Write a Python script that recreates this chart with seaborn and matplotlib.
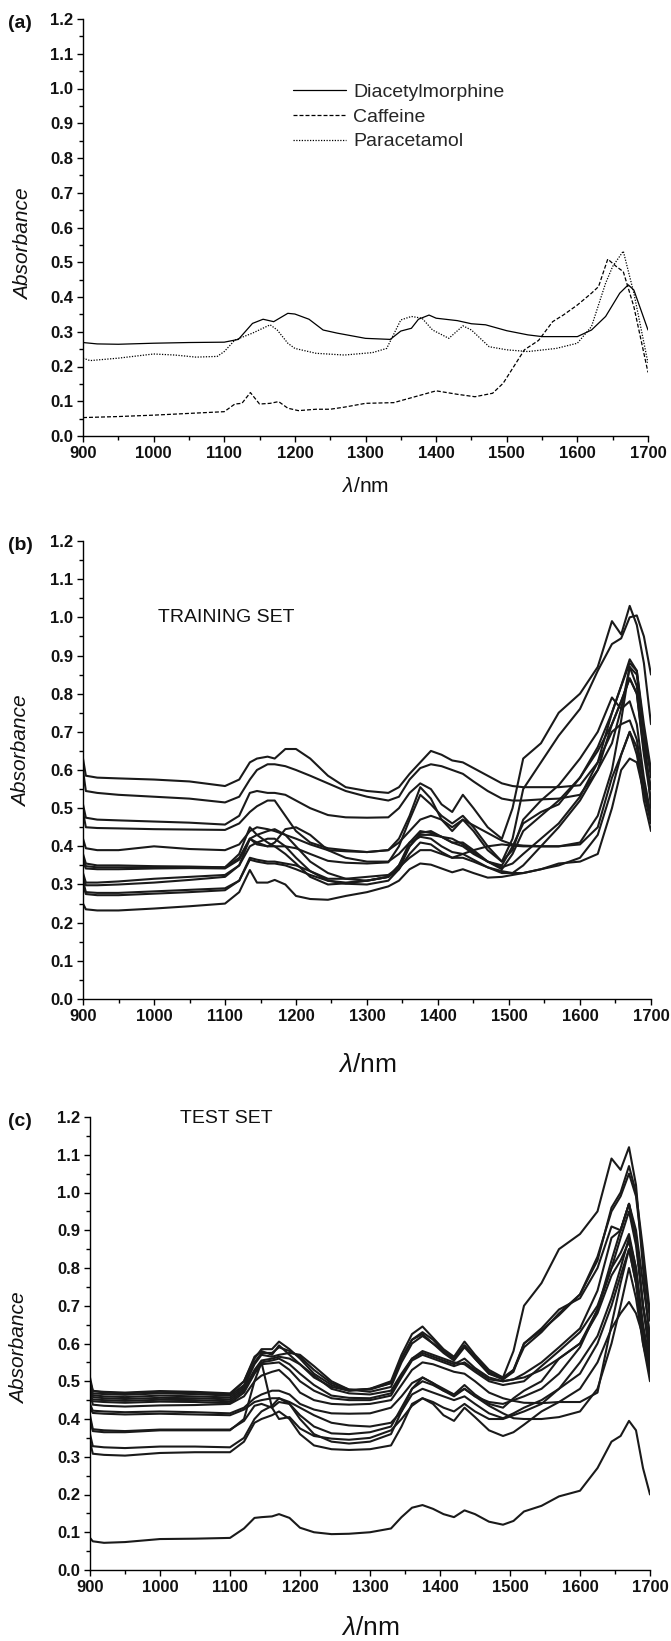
import numpy as np
import pandas as pd
import matplotlib
matplotlib.use("Agg")
import matplotlib.pyplot as plt
from matplotlib.ticker import MultipleLocator, FormatStrFormatter
from matplotlib.lines import Line2D
import seaborn as sns

# ---------------- Panel (a): pure compounds ----------------
dam_wl = [900, 920, 950, 1000, 1050, 1100, 1120, 1140, 1155, 1170, 1190, 1200, 1220, 1240, 1260, 1300,
          1335, 1350, 1365, 1375, 1390, 1400, 1430, 1450, 1470, 1500, 1530, 1550, 1580, 1600, 1620, 1640,
          1660, 1672, 1680, 1700]
dam_abs = [0.269, 0.265, 0.264, 0.267, 0.269, 0.270, 0.278, 0.324, 0.336, 0.329, 0.353, 0.351, 0.336, 0.305,
           0.296, 0.281, 0.278, 0.302, 0.310, 0.336, 0.348, 0.339, 0.332, 0.323, 0.320, 0.303, 0.291, 0.286,
           0.286, 0.286, 0.305, 0.344, 0.411, 0.435, 0.420, 0.305]
caf_wl = [900, 950, 1000, 1050, 1100, 1115, 1125, 1137, 1150, 1165, 1177, 1190, 1205, 1230, 1250, 1270, 1300,
          1340, 1370, 1400, 1430, 1455, 1480, 1495, 1510, 1525, 1545, 1565, 1580, 1600, 1620, 1630, 1643,
          1655, 1665, 1680, 1700]
caf_abs = [0.053, 0.056, 0.060, 0.065, 0.070, 0.092, 0.094, 0.125, 0.092, 0.094, 0.099, 0.080, 0.073, 0.077,
           0.077, 0.083, 0.094, 0.096, 0.113, 0.130, 0.120, 0.113, 0.123, 0.152, 0.200, 0.248, 0.275, 0.329,
           0.348, 0.377, 0.411, 0.430, 0.509, 0.488, 0.473, 0.372, 0.183]
par_wl = [900, 910, 950, 1000, 1030, 1060, 1090, 1100, 1115, 1140, 1165, 1175, 1190, 1200, 1230, 1270, 1310,
          1330, 1350, 1365, 1380, 1395, 1418, 1438, 1450, 1475, 1500, 1530, 1570, 1600, 1620, 1640, 1650,
          1665, 1680, 1700]
par_abs = [0.224, 0.217, 0.224, 0.236, 0.233, 0.227, 0.229, 0.243, 0.276, 0.296, 0.320, 0.305, 0.267, 0.252,
           0.238, 0.233, 0.240, 0.252, 0.334, 0.344, 0.339, 0.305, 0.281, 0.317, 0.305, 0.257, 0.248, 0.243,
           0.252, 0.267, 0.315, 0.440, 0.488, 0.532, 0.411, 0.210]
compounds = ["Diacetylmorphine", "Caffeine", "Paracetamol"]

# ---------------- Panels (b) and (c): spectra on a common wavelength grid ----------------
wl = [900, 904, 920, 950, 1000, 1050, 1100, 1120, 1135, 1145, 1160, 1170, 1185, 1200, 1220, 1245, 1270,
      1300, 1330, 1345, 1360, 1375, 1390, 1405, 1420, 1435, 1450, 1470, 1490, 1505, 1520, 1545, 1570,
      1600, 1625, 1645, 1658, 1670, 1680, 1690, 1700]

train_01 = [0.63, 0.585, 0.580, 0.578, 0.575, 0.570, 0.558, 0.575, 0.620, 0.630, 0.635, 0.630, 0.655, 0.655, 0.630, 0.585, 0.555, 0.545, 0.540, 0.555, 0.590, 0.620, 0.650, 0.640, 0.625, 0.620, 0.605, 0.585, 0.565, 0.558, 0.555, 0.555, 0.555, 0.560, 0.620, 0.750, 0.820, 0.880, 0.860, 0.700, 0.500]
train_02 = [0.60, 0.545, 0.540, 0.535, 0.530, 0.525, 0.515, 0.530, 0.575, 0.600, 0.615, 0.615, 0.610, 0.600, 0.585, 0.565, 0.545, 0.530, 0.520, 0.530, 0.575, 0.605, 0.615, 0.610, 0.600, 0.590, 0.570, 0.545, 0.525, 0.520, 0.520, 0.523, 0.525, 0.535, 0.600, 0.720, 0.780, 0.840, 0.800, 0.650, 0.550]
train_03 = [0.51, 0.475, 0.470, 0.468, 0.465, 0.462, 0.457, 0.480, 0.540, 0.545, 0.540, 0.540, 0.535, 0.520, 0.500, 0.482, 0.476, 0.475, 0.476, 0.500, 0.540, 0.565, 0.550, 0.510, 0.490, 0.535, 0.500, 0.450, 0.420, 0.500, 0.630, 0.670, 0.750, 0.800, 0.870, 0.990, 0.955, 1.030, 0.980, 0.880, 0.720]
train_04 = [0.49, 0.450, 0.448, 0.447, 0.445, 0.444, 0.443, 0.460, 0.490, 0.505, 0.520, 0.520, 0.480, 0.440, 0.410, 0.395, 0.390, 0.385, 0.390, 0.420, 0.480, 0.555, 0.525, 0.470, 0.440, 0.470, 0.440, 0.390, 0.360, 0.420, 0.550, 0.620, 0.690, 0.760, 0.860, 0.930, 0.945, 1.000, 1.005, 0.950, 0.850]
train_05 = [0.42, 0.395, 0.390, 0.390, 0.400, 0.393, 0.390, 0.405, 0.440, 0.450, 0.445, 0.440, 0.430, 0.420, 0.405, 0.390, 0.387, 0.385, 0.390, 0.410, 0.440, 0.470, 0.480, 0.470, 0.450, 0.470, 0.455, 0.435, 0.415, 0.405, 0.402, 0.400, 0.400, 0.405, 0.450, 0.580, 0.640, 0.700, 0.640, 0.540, 0.460]
train_06 = [0.38, 0.355, 0.350, 0.350, 0.348, 0.347, 0.345, 0.380, 0.450, 0.430, 0.410, 0.400, 0.400, 0.395, 0.380, 0.362, 0.357, 0.355, 0.358, 0.400, 0.470, 0.535, 0.510, 0.480, 0.460, 0.480, 0.450, 0.400, 0.360, 0.390, 0.470, 0.520, 0.560, 0.630, 0.700, 0.790, 0.760, 0.780, 0.720, 0.580, 0.480]
train_07 = [0.37, 0.348, 0.345, 0.345, 0.345, 0.345, 0.345, 0.370, 0.420, 0.430, 0.440, 0.445, 0.430, 0.400, 0.360, 0.330, 0.315, 0.310, 0.320, 0.350, 0.400, 0.435, 0.440, 0.425, 0.410, 0.400, 0.380, 0.360, 0.340, 0.380, 0.440, 0.480, 0.520, 0.580, 0.660, 0.750, 0.820, 0.890, 0.860, 0.720, 0.600]
train_08 = [0.36, 0.342, 0.340, 0.340, 0.342, 0.343, 0.342, 0.365, 0.420, 0.405, 0.400, 0.410, 0.445, 0.450, 0.430, 0.390, 0.370, 0.360, 0.360, 0.380, 0.410, 0.425, 0.420, 0.400, 0.385, 0.380, 0.390, 0.400, 0.405, 0.402, 0.400, 0.400, 0.400, 0.410, 0.480, 0.600, 0.730, 0.870, 0.820, 0.660, 0.550]
train_09 = [0.33, 0.305, 0.305, 0.308, 0.315, 0.320, 0.325, 0.350, 0.400, 0.410, 0.420, 0.420, 0.400, 0.370, 0.335, 0.310, 0.302, 0.300, 0.310, 0.340, 0.400, 0.430, 0.430, 0.425, 0.420, 0.405, 0.385, 0.360, 0.350, 0.400, 0.460, 0.490, 0.510, 0.580, 0.650, 0.720, 0.780, 0.840, 0.800, 0.640, 0.520]
train_10 = [0.32, 0.298, 0.298, 0.300, 0.305, 0.312, 0.320, 0.350, 0.420, 0.410, 0.400, 0.400, 0.380, 0.355, 0.320, 0.300, 0.303, 0.310, 0.320, 0.350, 0.410, 0.440, 0.435, 0.425, 0.410, 0.410, 0.390, 0.360, 0.345, 0.355, 0.380, 0.420, 0.460, 0.530, 0.620, 0.700, 0.720, 0.730, 0.680, 0.560, 0.470]
train_11 = [0.31, 0.280, 0.278, 0.278, 0.282, 0.286, 0.290, 0.310, 0.370, 0.365, 0.360, 0.360, 0.355, 0.350, 0.335, 0.315, 0.315, 0.320, 0.325, 0.345, 0.370, 0.390, 0.390, 0.380, 0.370, 0.370, 0.360, 0.345, 0.335, 0.330, 0.330, 0.340, 0.350, 0.370, 0.430, 0.550, 0.640, 0.700, 0.660, 0.520, 0.440]
train_12 = [0.30, 0.275, 0.272, 0.272, 0.276, 0.280, 0.285, 0.310, 0.365, 0.360, 0.355, 0.355, 0.350, 0.340, 0.325, 0.310, 0.305, 0.310, 0.320, 0.340, 0.380, 0.410, 0.405, 0.385, 0.370, 0.380, 0.365, 0.345, 0.330, 0.330, 0.350, 0.400, 0.450, 0.520, 0.600, 0.670, 0.760, 0.870, 0.850, 0.700, 0.580]
train_13 = [0.25, 0.235, 0.232, 0.232, 0.237, 0.243, 0.250, 0.280, 0.338, 0.305, 0.305, 0.312, 0.300, 0.270, 0.262, 0.260, 0.270, 0.280, 0.295, 0.310, 0.340, 0.355, 0.352, 0.342, 0.332, 0.340, 0.330, 0.318, 0.320, 0.325, 0.330, 0.340, 0.355, 0.360, 0.380, 0.500, 0.600, 0.630, 0.620, 0.540, 0.480]
train_set = [train_01, train_02, train_03, train_04, train_05, train_06, train_07, train_08,
             train_09, train_10, train_11, train_12, train_13]

test_01 = [0.51, 0.475, 0.470, 0.468, 0.472, 0.470, 0.465, 0.500, 0.565, 0.580, 0.570, 0.595, 0.570, 0.545, 0.510, 0.485, 0.475, 0.480, 0.495, 0.560, 0.610, 0.625, 0.600, 0.580, 0.560, 0.595, 0.560, 0.520, 0.510, 0.580, 0.700, 0.760, 0.850, 0.890, 0.950, 1.090, 1.060, 1.120, 1.020, 0.800, 0.600]
test_02 = [0.50, 0.474, 0.472, 0.470, 0.474, 0.472, 0.468, 0.500, 0.560, 0.585, 0.585, 0.605, 0.585, 0.560, 0.520, 0.490, 0.475, 0.480, 0.500, 0.570, 0.625, 0.645, 0.615, 0.585, 0.565, 0.605, 0.570, 0.530, 0.510, 0.530, 0.590, 0.630, 0.680, 0.730, 0.820, 0.960, 1.000, 1.070, 1.000, 0.850, 0.680]
test_03 = [0.49, 0.468, 0.466, 0.464, 0.468, 0.466, 0.462, 0.490, 0.550, 0.575, 0.575, 0.590, 0.580, 0.565, 0.530, 0.495, 0.478, 0.478, 0.495, 0.560, 0.610, 0.630, 0.610, 0.580, 0.560, 0.595, 0.565, 0.525, 0.505, 0.530, 0.600, 0.640, 0.690, 0.720, 0.800, 0.910, 0.900, 0.970, 0.900, 0.760, 0.620]
test_04 = [0.48, 0.463, 0.460, 0.458, 0.462, 0.460, 0.457, 0.485, 0.545, 0.570, 0.565, 0.570, 0.575, 0.570, 0.540, 0.500, 0.478, 0.472, 0.485, 0.550, 0.600, 0.620, 0.600, 0.575, 0.555, 0.590, 0.560, 0.520, 0.505, 0.525, 0.600, 0.635, 0.675, 0.730, 0.830, 0.950, 0.990, 1.050, 0.990, 0.830, 0.660]
test_05 = [0.47, 0.458, 0.455, 0.453, 0.456, 0.455, 0.452, 0.480, 0.530, 0.555, 0.560, 0.565, 0.560, 0.545, 0.515, 0.480, 0.468, 0.465, 0.475, 0.520, 0.560, 0.575, 0.565, 0.555, 0.545, 0.560, 0.535, 0.510, 0.500, 0.505, 0.520, 0.550, 0.590, 0.640, 0.740, 0.880, 0.900, 0.970, 0.880, 0.700, 0.560]
test_06 = [0.46, 0.452, 0.450, 0.448, 0.451, 0.450, 0.447, 0.475, 0.525, 0.550, 0.555, 0.560, 0.545, 0.520, 0.490, 0.462, 0.456, 0.455, 0.468, 0.515, 0.560, 0.580, 0.570, 0.560, 0.550, 0.545, 0.525, 0.500, 0.490, 0.495, 0.500, 0.540, 0.580, 0.630, 0.700, 0.800, 0.840, 0.890, 0.800, 0.640, 0.540]
test_07 = [0.455, 0.447, 0.445, 0.443, 0.446, 0.445, 0.442, 0.470, 0.520, 0.545, 0.548, 0.550, 0.530, 0.500, 0.475, 0.455, 0.450, 0.450, 0.462, 0.510, 0.555, 0.570, 0.560, 0.550, 0.540, 0.550, 0.530, 0.505, 0.500, 0.505, 0.510, 0.530, 0.560, 0.600, 0.680, 0.780, 0.820, 0.870, 0.780, 0.620, 0.520]
test_08 = [0.47, 0.438, 0.435, 0.433, 0.436, 0.437, 0.440, 0.460, 0.500, 0.515, 0.525, 0.530, 0.505, 0.470, 0.450, 0.440, 0.438, 0.440, 0.450, 0.490, 0.530, 0.550, 0.545, 0.535, 0.525, 0.520, 0.500, 0.470, 0.455, 0.448, 0.443, 0.442, 0.445, 0.445, 0.470, 0.650, 0.760, 0.850, 0.760, 0.620, 0.520]
test_09 = [0.44, 0.422, 0.420, 0.418, 0.420, 0.418, 0.415, 0.430, 0.455, 0.465, 0.475, 0.475, 0.465, 0.440, 0.425, 0.415, 0.414, 0.415, 0.430, 0.460, 0.495, 0.510, 0.495, 0.475, 0.460, 0.480, 0.460, 0.435, 0.415, 0.402, 0.400, 0.400, 0.405, 0.420, 0.480, 0.600, 0.700, 0.800, 0.720, 0.600, 0.520]
test_10 = [0.43, 0.416, 0.414, 0.412, 0.414, 0.412, 0.410, 0.425, 0.445, 0.450, 0.455, 0.455, 0.445, 0.430, 0.410, 0.390, 0.383, 0.380, 0.390, 0.420, 0.465, 0.480, 0.470, 0.460, 0.450, 0.460, 0.440, 0.415, 0.402, 0.415, 0.430, 0.450, 0.480, 0.550, 0.620, 0.720, 0.800, 0.880, 0.800, 0.650, 0.550]
test_11 = [0.40, 0.368, 0.365, 0.365, 0.370, 0.370, 0.370, 0.400, 0.500, 0.550, 0.430, 0.400, 0.405, 0.375, 0.355, 0.348, 0.345, 0.350, 0.370, 0.400, 0.435, 0.455, 0.440, 0.410, 0.395, 0.430, 0.405, 0.370, 0.355, 0.365, 0.385, 0.420, 0.445, 0.480, 0.550, 0.640, 0.680, 0.710, 0.680, 0.620, 0.550]
test_12 = [0.41, 0.373, 0.370, 0.368, 0.372, 0.372, 0.372, 0.395, 0.435, 0.440, 0.430, 0.445, 0.440, 0.410, 0.380, 0.362, 0.360, 0.365, 0.380, 0.430, 0.480, 0.500, 0.490, 0.475, 0.465, 0.490, 0.465, 0.440, 0.430, 0.455, 0.475, 0.500, 0.560, 0.600, 0.690, 0.800, 0.880, 0.950, 0.860, 0.700, 0.600]
test_13 = [0.36, 0.328, 0.325, 0.323, 0.327, 0.327, 0.325, 0.350, 0.400, 0.420, 0.435, 0.455, 0.440, 0.400, 0.360, 0.340, 0.335, 0.340, 0.360, 0.420, 0.480, 0.510, 0.495, 0.480, 0.465, 0.480, 0.460, 0.445, 0.440, 0.450, 0.460, 0.480, 0.520, 0.590, 0.690, 0.820, 0.900, 0.970, 0.880, 0.700, 0.580]
test_14 = [0.34, 0.308, 0.305, 0.303, 0.310, 0.312, 0.312, 0.340, 0.390, 0.400, 0.410, 0.420, 0.400, 0.360, 0.330, 0.320, 0.318, 0.320, 0.330, 0.380, 0.440, 0.455, 0.445, 0.430, 0.420, 0.440, 0.420, 0.400, 0.400, 0.410, 0.420, 0.440, 0.480, 0.520, 0.600, 0.700, 0.780, 0.850, 0.760, 0.600, 0.500]
test_15 = [0.085, 0.076, 0.072, 0.074, 0.082, 0.083, 0.085, 0.110, 0.138, 0.140, 0.142, 0.148, 0.138, 0.112, 0.100, 0.095, 0.096, 0.100, 0.110, 0.140, 0.165, 0.172, 0.162, 0.148, 0.140, 0.158, 0.148, 0.128, 0.120, 0.130, 0.155, 0.170, 0.195, 0.210, 0.270, 0.340, 0.355, 0.395, 0.370, 0.270, 0.200]
test_set = [test_01, test_02, test_03, test_04, test_05, test_06, test_07, test_08,
            test_09, test_10, test_11, test_12, test_13, test_14, test_15]

x_ticks = [900, 1000, 1100, 1200, 1300, 1400, 1500, 1600, 1700]
y_ticks = [0.0, 0.1, 0.2, 0.3, 0.4, 0.5, 0.6, 0.7, 0.8, 0.9, 1.0, 1.1, 1.2]

# ---------------- long-form tables ----------------
df_a = pd.concat([
    pd.DataFrame({"wl": dam_wl, "abs": dam_abs, "compound": compounds[0]}),
    pd.DataFrame({"wl": caf_wl, "abs": caf_abs, "compound": compounds[1]}),
    pd.DataFrame({"wl": par_wl, "abs": par_abs, "compound": compounds[2]}),
], ignore_index=True)

def long_form(spectra):
    return pd.concat([pd.DataFrame({"wl": wl, "abs": s, "sample": i})
                      for i, s in enumerate(spectra)], ignore_index=True)

df_b = long_form(train_set)
df_c = long_form(test_set)

# ---------------- style ----------------
sns.set_theme(style="ticks")
plt.rcParams["font.family"] = ["Liberation Sans", "DejaVu Sans"]
plt.rcParams["mathtext.fontset"] = "custom"
plt.rcParams["mathtext.it"] = "Liberation Sans:italic"
plt.rcParams["mathtext.rm"] = "Liberation Sans"
plt.rcParams["axes.linewidth"] = 1.0

W, H = 671, 1641
fig = plt.figure(figsize=(W / 100, H / 100), dpi=100)

def px_axes(left, right, top, bottom):
    return fig.add_axes([left / W, 1 - bottom / H, (right - left) / W, (bottom - top) / H])

ax_a = px_axes(83, 648, 19, 436)
ax_b = px_axes(83, 651, 541, 999)
ax_c = px_axes(90, 650, 1117, 1570)

dash_map = {"Diacetylmorphine": "", "Caffeine": (3.2, 1.6), "Paracetamol": (1, 1.2)}
sns.lineplot(data=df_a, x="wl", y="abs", style="compound", dashes=dash_map, color="black",
             linewidth=0.9, ax=ax_a, legend=False, estimator=None, sort=False)
sns.lineplot(data=df_b, x="wl", y="abs", units="sample", estimator=None, color="#1a1a1a",
             linewidth=1.5, ax=ax_b, legend=False, sort=False)
sns.lineplot(data=df_c, x="wl", y="abs", units="sample", estimator=None, color="#1a1a1a",
             linewidth=1.5, ax=ax_c, legend=False, sort=False)

def style_axes(ax, xlabel_size, xlabel_y, ylabel_x, ylabel_y):
    ax.set_xlim(900, 1700)
    ax.set_ylim(0, 1.2)
    ax.set_xticks(x_ticks)
    ax.set_yticks(y_ticks)
    ax.xaxis.set_minor_locator(MultipleLocator(50))
    ax.yaxis.set_minor_locator(MultipleLocator(0.05))
    ax.yaxis.set_major_formatter(FormatStrFormatter("%.1f"))
    for s in ("top", "right"):
        ax.spines[s].set_visible(False)
    for s in ("left", "bottom"):
        ax.spines[s].set_color("black")
        ax.spines[s].set_linewidth(1.0)
    ax.tick_params(which="major", direction="out", length=4, width=1.0, color="black",
                   labelsize=12, pad=3)
    ax.tick_params(which="minor", direction="out", length=3.2, width=1.0, color="black")
    for lab in ax.get_xticklabels() + ax.get_yticklabels():
        lab.set_fontweight("bold")
        lab.set_color("#111111")
    ax.set_xlabel(r"$\mathit{\lambda}$/nm", fontsize=xlabel_size, color="#111111")
    ax.set_ylabel("Absorbance", fontsize=15, fontstyle="italic", color="#111111")
    ax.xaxis.set_label_coords(0.5, xlabel_y)
    ax.xaxis.label.set_va("center")
    ax.yaxis.set_label_coords(ylabel_x, ylabel_y)
    ax.yaxis.label.set_va("center")
    ax.grid(False)
    ax.set_facecolor("white")

style_axes(ax_a, 15, -0.122, -0.106, 0.46)
style_axes(ax_b, 19, -0.144, -0.109, 0.54)
style_axes(ax_c, 19, -0.127, -0.125, 0.49)

# legend for panel (a)
handles = [Line2D([], [], color="black", lw=0.9, linestyle="-"),
           Line2D([], [], color="black", lw=0.9, linestyle=(0, (3.2, 1.6))),
           Line2D([], [], color="black", lw=0.9, linestyle=(0, (1, 1.2)))]
ax_a.legend(handles, compounds, loc="upper left", bbox_to_anchor=(0.372, 0.845), frameon=False,
            fontsize=14, handlelength=2.7, handletextpad=0.4, labelspacing=0.36,
            borderpad=0, borderaxespad=0)

ax_b.text(1005, 1.0, "TRAINING SET", fontsize=14, ha="left", va="center", color="#111111")
ax_c.text(1028, 1.195, "TEST SET", fontsize=14, ha="left", va="center", color="#111111")

for label, ypx in (("(a)", 23), ("(b)", 545), ("(c)", 1121)):
    fig.text(8 / W, 1 - ypx / H, label, fontsize=14, fontweight="bold", ha="left", va="center",
             color="#111111")

fig.savefig("out.png", dpi=100, facecolor="white")
